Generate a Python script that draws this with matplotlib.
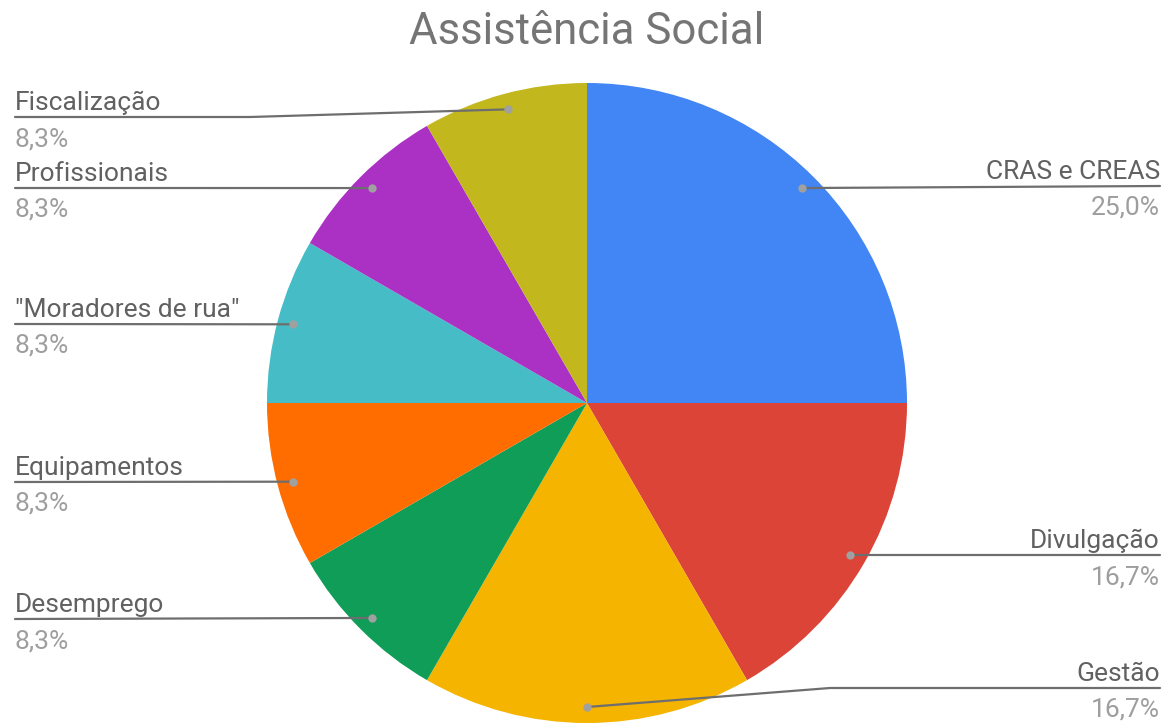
import numpy as np
import matplotlib
matplotlib.use("Agg")
import matplotlib.pyplot as plt

plt.rcParams['font.family'] = ['Roboto', 'DejaVu Sans']

labels = ['CRAS e CREAS', 'Divulgação', 'Gestão', 'Desemprego', 'Equipamentos',
          '"Moradores de rua"', 'Profissionais', 'Fiscalização']
counts = [3, 2, 2, 1, 1, 1, 1, 1]
colors = ['#4285F4', '#DB4437', '#F4B400', '#0F9D58', '#FF6D00',
          '#46BDC6', '#AB30C4', '#C2B81E']

W, H = 1165, 724
cx, cy, R = 587, H - 403, 320
# vertical position (px from top) of each label's underline
label_rows = [186, 555, 688, 619, 482, 324, 188, 117]

fig = plt.figure(figsize=(W / 100, H / 100), dpi=100)
ax = fig.add_axes([0, 0, 1, 1])

ax.pie(counts, colors=colors, startangle=90, counterclock=False,
       center=(cx, cy), radius=R, wedgeprops=dict(linewidth=0))

total = sum(counts)
start = 0.0
for name, c, row in zip(labels, counts, label_rows):
    frac = c / total
    mid = (start + frac / 2) * 2 * np.pi
    start += frac
    dx, dy = cx + 0.95 * R * np.sin(mid), cy + 0.95 * R * np.cos(mid)
    ly = H - row
    right = np.sin(mid) > 0
    if right:
        xs = [dx, 830, 1160] if abs(ly - dy) > 3 else [dx, 1160]
        tx, ha = 1160, 'right'
    else:
        xs = [dx, 250, 15] if abs(ly - dy) > 3 else [dx, 15]
        tx, ha = 15, 'left'
    ys = [dy] + [ly] * (len(xs) - 1)
    ax.plot(xs, ys, color='#6E6E6E', lw=1.6, solid_capstyle='round', zorder=3)
    ax.plot(dx, dy, 'o', ms=6, color='#A0A0A0', mec='none', zorder=4)
    pct = f"{frac * 100:.1f}".replace('.', ',') + '%'
    ax.text(tx, ly + 7, name, ha=ha, va='baseline', fontsize=19, color='#616161')
    ax.text(tx, ly - 29, pct, ha=ha, va='baseline', fontsize=19, color='#9E9E9E')

ax.text(587, H - 32, 'Assistência Social', ha='center', va='center',
        fontsize=31.5, color='#757575')

ax.set_xlim(0, W)
ax.set_ylim(0, H)
ax.set_aspect('equal')
ax.axis('off')

fig.savefig('out.png', dpi=100, facecolor='white')
